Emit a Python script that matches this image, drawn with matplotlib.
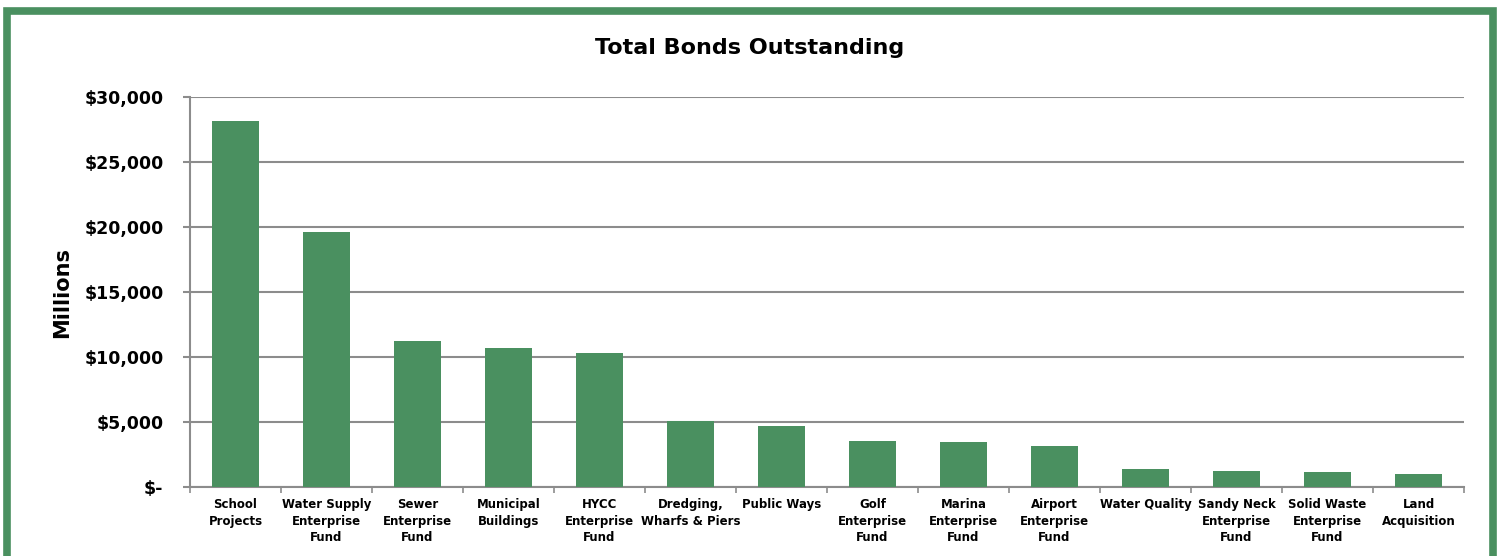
import matplotlib.pyplot as plt
from matplotlib.patches import Rectangle
from matplotlib.ticker import FuncFormatter, FixedLocator

GREEN = "#4a9060"
GRID = "#8c8c8c"

categories = [
    "School\nProjects", "Water Supply\nEnterprise\nFund", "Sewer\nEnterprise\nFund",
    "Municipal\nBuildings", "HYCC\nEnterprise\nFund", "Dredging,\nWharfs & Piers",
    "Public Ways", "Golf\nEnterprise\nFund", "Marina\nEnterprise\nFund",
    "Airport\nEnterprise\nFund", "Water Quality", "Sandy Neck\nEnterprise\nFund",
    "Solid Waste\nEnterprise\nFund", "Land\nAcquisition",
]
bonds = [28150, 19600, 11200, 10700, 10300, 5080, 4700,
         3540, 3500, 3120, 1400, 1250, 1150, 980]
yticks = [0, 5000, 10000, 15000, 20000, 25000, 30000]


def money(v, pos):
    if v == 0:
        return "$-"
    return "${:,.0f}".format(v)


fig = plt.figure(figsize=(14.99, 5.56), dpi=100)

# green frame round the chart
fig.patches.append(Rectangle((7 / 1499, -0.05), 1486 / 1499, 1.05 - 11 / 556,
                             transform=fig.transFigure, fill=False,
                             edgecolor=GREEN, linewidth=5.5))

ax = fig.add_axes([190 / 1499, 1 - 487 / 556, 1274 / 1499, 390 / 556])
x = list(range(len(categories)))
ax.bar(x, bonds, width=0.51, color=GREEN, zorder=3)

ax.set_xlim(-0.5, len(categories) - 0.5)
ax.set_ylim(0, 30000)
ax.set_yticks(yticks)
ax.yaxis.set_major_formatter(FuncFormatter(money))
ax.grid(axis="y", color=GRID, linewidth=1.5, zorder=0)

ax.set_xticks(x)
ax.set_xticklabels(categories, fontsize=8.5, fontweight="bold", linespacing=1.35)
ax.xaxis.set_minor_locator(FixedLocator([i - 0.5 for i in range(len(categories) + 1)]))
ax.tick_params(axis="x", which="major", length=0, pad=8)
ax.tick_params(axis="x", which="minor", length=4, color=GRID, width=1.2)
ax.tick_params(axis="y", length=5, color=GRID, width=1.5, labelsize=12.5, pad=14)
for lbl in ax.get_yticklabels():
    lbl.set_fontweight("bold")

for side in ["top", "right"]:
    ax.spines[side].set_visible(False)
for side in ["left", "bottom"]:
    ax.spines[side].set_color(GRID)
    ax.spines[side].set_linewidth(1.5)

ax.set_ylabel("Millions", fontsize=15, fontweight="bold", labelpad=9)
fig.text(0.5, 1 - 48 / 556, "Total Bonds Outstanding", ha="center", va="center",
         fontsize=16, fontweight="bold")

fig.savefig("out.png", dpi=100)
